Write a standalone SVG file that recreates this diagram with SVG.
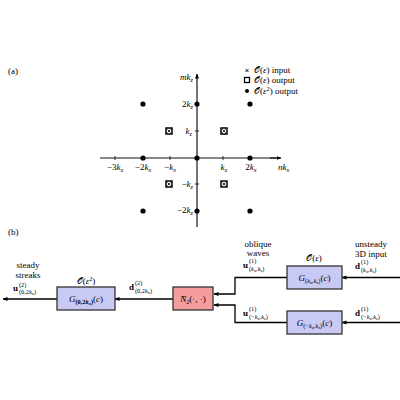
<svg xmlns="http://www.w3.org/2000/svg" width="400" height="400" viewBox="0 0 400 400">
<defs>
<style>
.t{font-family:"Liberation Serif","DejaVu Serif",serif;font-size:9px;fill:#000}
.s{font-size:6.3px}
.ss{font-size:4.8px}
.i{font-style:italic}
.b{font-weight:bold}
.cal{font-family:"DejaVu Sans","Noto Sans",serif;font-style:normal}
.dot{fill:#000}
.mk{fill:#fff;stroke:#000;stroke-width:1.5}
.mx{stroke:#000;stroke-width:0.8}
.conn{fill:none;stroke:#000;stroke-width:1.3}
.blue{fill:#c9c9f6;stroke:#333;stroke-width:1.3}
.red{fill:#f59c9c;stroke:#333;stroke-width:1.3}
</style>
<marker id="ah" viewBox="0 0 10 10" refX="9" refY="5" markerWidth="5" markerHeight="5" orient="auto" markerUnits="userSpaceOnUse">
<path d="M0,1 L10,5 L0,9 z" fill="#000"/>
</marker>
<g id="boxmark">
<rect x="-3" y="-3" width="6" height="6" class="mk"/>
<path d="M-1.6,-1.6 L1.6,1.6 M-1.6,1.6 L1.6,-1.6" class="mx"/>
</g>
</defs>
<rect width="400" height="400" fill="#fff"/>

<text class="t" x="8" y="74">(a)</text>
<text class="t" x="8" y="235">(b)</text>

<!-- part (a) -->
<g id="axes">
<line x1="100" y1="158" x2="277" y2="158" stroke="#888" stroke-width="2"/>
<line x1="270" y1="158" x2="281" y2="158" stroke="#000" stroke-width="1" marker-end="url(#ah)"/>
<line x1="197" y1="227" x2="197" y2="74" stroke="#000" stroke-width="1.1" marker-end="url(#ah)"/>
<path d="M115,156 V160 M170,156 V160 M223,156 V160 M195,131 H199 M195,184 H199" stroke="#000" stroke-width="0.8"/>
</g>
<g id="axislabels">
<text class="t" x="193" y="80" text-anchor="end"><tspan class="i">mk</tspan><tspan class="s i" dy="1.5">z</tspan></text>
<text class="t" x="193" y="107" text-anchor="end">2<tspan class="i">k</tspan><tspan class="s i" dy="1.5">z</tspan></text>
<text class="t" x="192" y="134" text-anchor="end"><tspan class="i">k</tspan><tspan class="s i" dy="1.5">z</tspan></text>
<text class="t" x="193" y="187" text-anchor="end">−<tspan class="i">k</tspan><tspan class="s i" dy="1.5">z</tspan></text>
<text class="t" x="193" y="213" text-anchor="end">−2<tspan class="i">k</tspan><tspan class="s i" dy="1.5">z</tspan></text>
<text class="t" x="115" y="170" text-anchor="middle">−3<tspan class="i">k</tspan><tspan class="s i" dy="1.5">x</tspan></text>
<text class="t" x="143" y="170" text-anchor="middle">−2<tspan class="i">k</tspan><tspan class="s i" dy="1.5">x</tspan></text>
<text class="t" x="170" y="170" text-anchor="middle">−<tspan class="i">k</tspan><tspan class="s i" dy="1.5">x</tspan></text>
<text class="t" x="224" y="170" text-anchor="middle"><tspan class="i">k</tspan><tspan class="s i" dy="1.5">x</tspan></text>
<text class="t" x="251" y="170" text-anchor="middle">2<tspan class="i">k</tspan><tspan class="s i" dy="1.5">x</tspan></text>
<text class="t" x="278" y="170"><tspan class="i">nk</tspan><tspan class="s i" dy="1.5">x</tspan></text>
</g>
<g id="dots">
<circle class="dot" cx="143" cy="104" r="2.6"/>
<circle class="dot" cx="197" cy="104" r="2.6"/>
<circle class="dot" cx="250" cy="104" r="2.6"/>
<circle class="dot" cx="143" cy="158" r="2.6"/>
<circle class="dot" cx="197" cy="158" r="2.6"/>
<circle class="dot" cx="250" cy="158" r="2.6"/>
<circle class="dot" cx="143" cy="211" r="2.6"/>
<circle class="dot" cx="197" cy="211" r="2.6"/>
<circle class="dot" cx="250" cy="211" r="2.6"/>
</g>
<g id="boxmarks">
<use href="#boxmark" x="169" y="131"/>
<use href="#boxmark" x="224" y="131"/>
<use href="#boxmark" x="169" y="184"/>
<use href="#boxmark" x="224" y="184"/>
</g>
<g id="legend">
<path d="M245.5,69 L248.5,72 M245.5,72 L248.5,69" stroke="#000" stroke-width="0.9"/>
<rect x="244.5" y="77.5" width="5" height="5" fill="#fff" stroke="#000" stroke-width="1.3"/>
<circle cx="247" cy="91" r="2" fill="#000"/>
<text class="t" x="254" y="73"><tspan class="cal">𝒪</tspan>(<tspan class="i">ε</tspan>) input</text>
<text class="t" x="254" y="83"><tspan class="cal">𝒪</tspan>(<tspan class="i">ε</tspan>) output</text>
<text class="t" x="254" y="94"><tspan class="cal">𝒪</tspan>(<tspan class="i">ε</tspan><tspan class="s" dy="-3">2</tspan><tspan dy="3">) output</tspan></text>
</g>

<!-- part (b) -->
<g id="connectors">
<line class="conn" x1="400" y1="277.5" x2="342" y2="277.5" marker-end="url(#ah)"/>
<line class="conn" x1="400" y1="322.5" x2="342" y2="322.5" marker-end="url(#ah)"/>
<path class="conn" d="M287,277.5 H235 V294 H214" marker-end="url(#ah)"/>
<path class="conn" d="M287,322.5 H235 V305 H214" marker-end="url(#ah)"/>
<line class="conn" x1="173" y1="299" x2="115" y2="299" marker-end="url(#ah)"/>
<line class="conn" x1="57" y1="299" x2="3" y2="299" marker-end="url(#ah)"/>
</g>

<g id="G_top">
<rect class="blue" x="287" y="266" width="55" height="23"/>
<text class="t" x="314.5" y="281" text-anchor="middle"><tspan class="i">G</tspan><tspan class="s" dy="1.5">(<tspan class="i">k</tspan><tspan class="ss i" dy="1">x</tspan><tspan dy="-1">,</tspan><tspan class="i">k</tspan><tspan class="ss i" dy="1">z</tspan><tspan dy="-1">)</tspan></tspan><tspan dy="-1.5">(<tspan class="i">c</tspan>)</tspan></text>
</g>
<g id="G_bottom">
<rect class="blue" x="287" y="311" width="55" height="23"/>
<text class="t" x="314.5" y="326" text-anchor="middle"><tspan class="i">G</tspan><tspan class="s" dy="1.5">(−<tspan class="i">k</tspan><tspan class="ss i" dy="1">x</tspan><tspan dy="-1">,</tspan><tspan class="i">k</tspan><tspan class="ss i" dy="1">z</tspan><tspan dy="-1">)</tspan></tspan><tspan dy="-1.5">(<tspan class="i">c</tspan>)</tspan></text>
</g>
<g id="N2">
<rect class="red" x="173" y="287" width="40" height="23"/>
<text class="t" x="193" y="302" text-anchor="middle"><tspan class="i">N̄</tspan><tspan class="s" dy="1.5">2</tspan><tspan dy="-1.5">(·, ·)</tspan></text>
</g>
<g id="G_left">
<rect class="blue" x="57" y="287" width="58" height="23"/>
<text class="t" x="86" y="302" text-anchor="middle"><tspan class="i">G</tspan><tspan class="s b" dy="1.5">(0,2<tspan class="i">k</tspan><tspan class="ss i" dy="1">x</tspan><tspan dy="-1">)</tspan></tspan><tspan dy="-1.5">(<tspan class="i">c</tspan>)</tspan></text>
</g>

<g id="labels">
<text class="t" x="314" y="261" text-anchor="middle"><tspan class="cal">𝒪</tspan>(<tspan class="i">ε</tspan>)</text>
<text class="t" x="86" y="284" text-anchor="middle"><tspan class="cal">𝒪</tspan>(<tspan class="i">ε</tspan><tspan class="s" dy="-3">2</tspan><tspan dy="3">)</tspan></text>
<text class="t" x="258" y="247" text-anchor="middle">oblique</text>
<text class="t" x="258" y="256" text-anchor="middle">waves</text>
<text class="t" x="371" y="247" text-anchor="middle">unsteady</text>
<text class="t" x="371" y="257" text-anchor="middle">3D input</text>
<text class="t" x="28" y="268" text-anchor="middle">steady</text>
<text class="t" x="28" y="278" text-anchor="middle">streaks</text>

<text class="t" x="243" y="268"><tspan class="b">u</tspan><tspan class="s" x="249" y="263">(1)</tspan><tspan class="s" x="249" y="270.5">(<tspan class="i">k</tspan><tspan class="ss i" dy="1">x</tspan><tspan dy="-1">,</tspan><tspan class="i">k</tspan><tspan class="ss i" dy="1">z</tspan><tspan dy="-1">)</tspan></tspan></text>
<text class="t" x="355" y="269"><tspan class="b">d</tspan><tspan class="s" x="361" y="264">(1)</tspan><tspan class="s" x="361" y="271.5">(<tspan class="i">k</tspan><tspan class="ss i" dy="1">x</tspan><tspan dy="-1">,</tspan><tspan class="i">k</tspan><tspan class="ss i" dy="1">z</tspan><tspan dy="-1">)</tspan></tspan></text>
<text class="t" x="243" y="316"><tspan class="b">u</tspan><tspan class="s" x="249" y="311">(1)</tspan><tspan class="s" x="249" y="318.5">(−<tspan class="i">k</tspan><tspan class="ss i" dy="1">x</tspan><tspan dy="-1">,</tspan><tspan class="i">k</tspan><tspan class="ss i" dy="1">z</tspan><tspan dy="-1">)</tspan></tspan></text>
<text class="t" x="355" y="316"><tspan class="b">d</tspan><tspan class="s" x="361" y="311">(1)</tspan><tspan class="s" x="361" y="318.5">(−<tspan class="i">k</tspan><tspan class="ss i" dy="1">x</tspan><tspan dy="-1">,</tspan><tspan class="i">k</tspan><tspan class="ss i" dy="1">z</tspan><tspan dy="-1">)</tspan></tspan></text>
<text class="t" x="129" y="290"><tspan class="b">d</tspan><tspan class="s" x="135" y="285">(2)</tspan><tspan class="s" x="135" y="292.5">(0,2<tspan class="i">k</tspan><tspan class="ss i" dy="1">x</tspan><tspan dy="-1">)</tspan></tspan></text>
<text class="t" x="13" y="291"><tspan class="b">u</tspan><tspan class="s" x="19" y="286.5">(2)</tspan><tspan class="s" x="19" y="293.5">(0,2<tspan class="i">k</tspan><tspan class="ss i" dy="1">x</tspan><tspan dy="-1">)</tspan></tspan></text>
</g>
</svg>
